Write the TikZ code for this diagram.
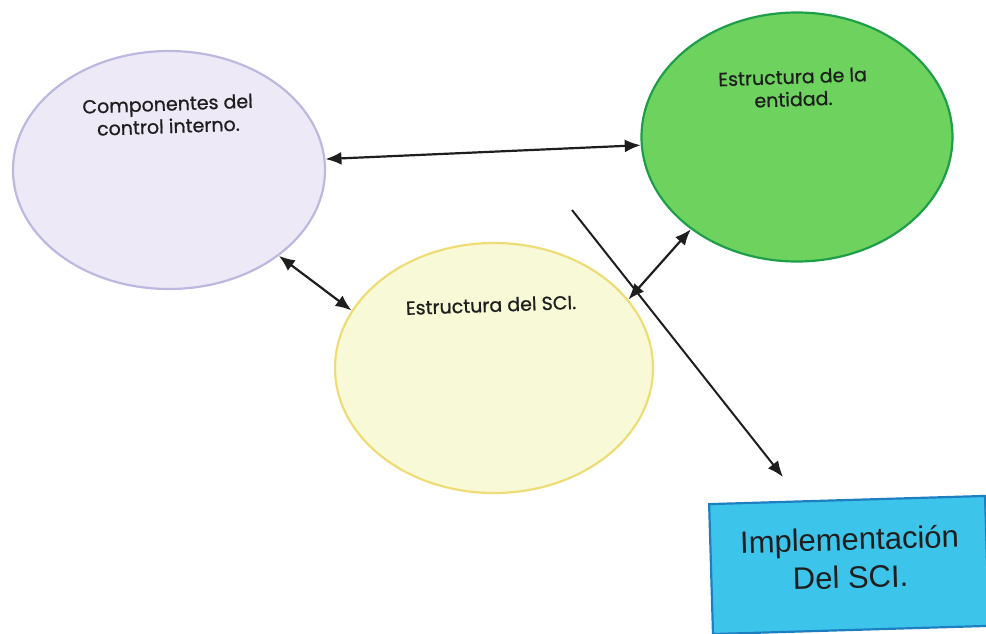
\documentclass[tikz,border=0pt]{standalone}
\usepackage{fontspec}
\setmainfont{Poppins}
\newfontfamily\bubfont[FakeBold=0.8]{Poppins}
\newfontfamily\boxfont{Liberation Sans}
\usetikzlibrary{shapes.geometric,arrows.meta}

\definecolor{lavfill}{HTML}{EEE9F6}
\definecolor{lavline}{HTML}{BDB8E0}
\definecolor{grnfill}{HTML}{6DD35E}
\definecolor{grnline}{HTML}{1F9E4A}
\definecolor{yelfill}{HTML}{F8F9D6}
\definecolor{yelline}{HTML}{EEDD77}
\definecolor{bluefill}{HTML}{3CC4EA}
\definecolor{blueline}{HTML}{1E7FC0}
\definecolor{ink}{HTML}{1E1E1E}

\tikzset{
  bubble/.style={ellipse, line width=2.2pt, inner sep=0pt},
  bubbletext/.style={font=\bubfont\fontsize{19}{22.5}\selectfont, text=ink, align=center, rotate=2},
  link/.style={line width=2.2pt, draw=ink, {Latex[length=16pt,width=13pt]}-{Latex[length=16pt,width=13pt]}},
  oneway/.style={line width=2pt, draw=ink, -{Latex[length=16pt,width=13pt]}},
  goalbox/.style={draw=blueline, fill=bluefill, line width=2.2pt, rotate=1.7,
    minimum width=276pt, minimum height=130pt, inner sep=0pt},
}

\begin{document}
\begin{tikzpicture}[x=1pt,y=-1pt]
  \useasboundingbox (0,0) rectangle (986,633);

  % the three bubbles
  \node[bubble, draw=lavline, fill=lavfill, minimum width=312pt, minimum height=238pt] (comp) at (169,170) {};
  \node[bubble, draw=grnline, fill=grnfill, minimum width=311pt, minimum height=249pt] (ent) at (797,137) {};
  \node[bubble, draw=yelline, fill=yelfill, minimum width=318pt, minimum height=250pt] (sci) at (494,368) {};

  \node[bubbletext] (comptext) at (168,115) {Componentes del\\control interno.};
  \node[bubbletext] (enttext) at (793,88) {Estructura de la\\entidad.};
  \node[bubbletext] (scitext) at (491,305) {Estructura del SCI.};

  % target box
  \node[goalbox] (impl) at (849,565) {};
  \node[font=\boxfont\fontsize{31}{38}\selectfont, text=ink, align=center, rotate=1.7] (impltext) at (850,558) {Implementación\\Del SCI.};

  % connectors
  \draw[link] (comp.4) -- (ent.183);
  \draw[link] (comp.-38.5) -- (sci.158.5);
  \draw[link] (sci.27) -- (ent.221);

  \coordinate (cutstart) at (572,210);
  \coordinate (cutend) at (783,477);
  \draw[oneway] (cutstart) -- (cutend);
\end{tikzpicture}
\end{document}
